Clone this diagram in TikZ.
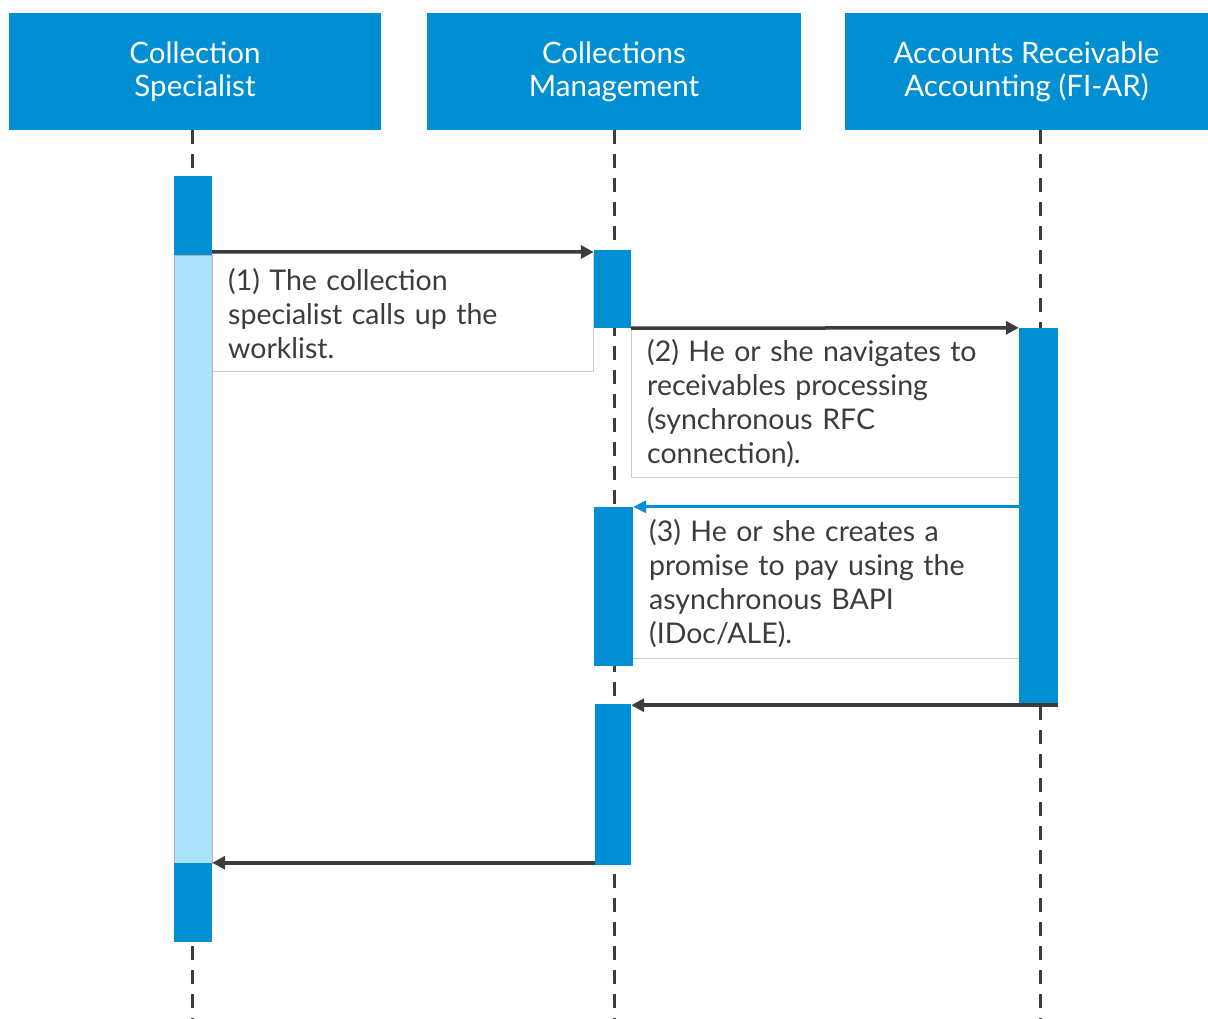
\documentclass[tikz,border=0pt]{standalone}
\usepackage{fontspec}
\setmainfont{Lato}
\usetikzlibrary{arrows.meta}
\definecolor{sapblue}{RGB}{0,143,211}
\definecolor{lightbar}{RGB}{172,225,251}
\definecolor{inkgray}{RGB}{60,60,60}
\definecolor{rulegray}{RGB}{205,205,205}
\tikzset{
  head/.style={fill=sapblue,text=white,inner sep=0,minimum height=117pt,align=center,font=\fontsize{29.5}{33}\selectfont},
  bar/.style={fill=sapblue,inner sep=0,minimum width=38pt},
  idle/.style={fill=lightbar,draw=gray!60,line width=.6pt,inner sep=0,minimum width=38pt},
  life/.style={draw=inkgray,line width=3pt,dash pattern=on 14pt off 10pt},
  msg/.style={draw=inkgray,line width=3.5pt,-{Triangle[length=13pt,width=13pt]}},
  reply/.style={draw=sapblue,line width=3pt,-{Triangle[length=13pt,width=12pt]}},
  note/.style={fill=white,anchor=north west,inner xsep=16pt,inner ysep=0,align=left,text=inkgray,font=\fontsize{28.5}{34}\selectfont},
  noteline/.style={draw=rulegray,line width=1pt}
}
\begin{document}
\begin{tikzpicture}[x=1pt,y=-1pt]
\useasboundingbox (0,0) rectangle (1208,1019);
% lanes
\node[head,minimum width=372pt] (h1) at (195,71.5) {Collection\\Specialist};
\node[head,minimum width=374pt] (h2) at (614,71.5) {Collections\\Management};
\node[head,minimum width=363pt] (h3) at (1026.5,71.5) {Accounts Receivable\\Accounting (FI-AR)};
\coordinate (e1) at (192,1019);
\coordinate (e2) at (614,1019);
\coordinate (e3) at (1040,1019);
\draw[life] (h1.south -| e1) -- (e1);
\draw[life] (h2.south) -- (e2);
\draw[life] (h3.south -| e3) -- (e3);
% notes
\node[note,minimum width=381pt,minimum height=116pt,text width=349pt] (n1) at (212,255)
  {(1) The collection\\specialist calls up the\\worklist.};
\node[note,minimum width=388pt,minimum height=147pt,text width=356pt] (n2) at (631,330)
  {(2) He or she navigates to\\receivables processing\\(synchronous RFC\\connection).};
\node[note,minimum width=386pt,minimum height=149pt,text width=354pt] (n3) at (633,509)
  {(3) He or she creates a\\promise to pay using the\\asynchronous BAPI\\(IDoc/ALE).};
\draw[noteline] (n1.north east) |- (n1.south west);
\draw[noteline] (n2.north west) |- (n2.south east);
\draw[noteline] (n3.south west) -- (n3.south east);
% activations
\node[bar,minimum height=79pt] (a1) at (193,215.5) {};
\node[idle,minimum height=608pt] (a2) at (193,559) {};
\node[bar,minimum height=79pt] (a3) at (193,902.5) {};
\node[bar,minimum width=37pt,minimum height=78pt] (b1) at (612.5,289) {};
\node[bar,minimum width=39pt,minimum height=159pt] (b2) at (613.5,586.5) {};
\node[bar,minimum width=36pt,minimum height=161pt] (b3) at (613,784.5) {};
\node[bar,minimum width=39pt,minimum height=377pt] (c1) at (1038.5,516.5) {};
% messages
\draw[msg] (a1.east |- b1.north) ++(0,2) -- (b1.north west |- 0,252);
\draw[msg] (b1.south east) -- (c1.north west);
\draw[reply] (c1.west |- b2.north) -- (b2.north east);
\draw[msg] (c1.south east) -- (c1.south east -| b3.east);
\draw[msg] (b3.south west |- a3.north) -- (a3.north east);
\end{tikzpicture}
\end{document}
